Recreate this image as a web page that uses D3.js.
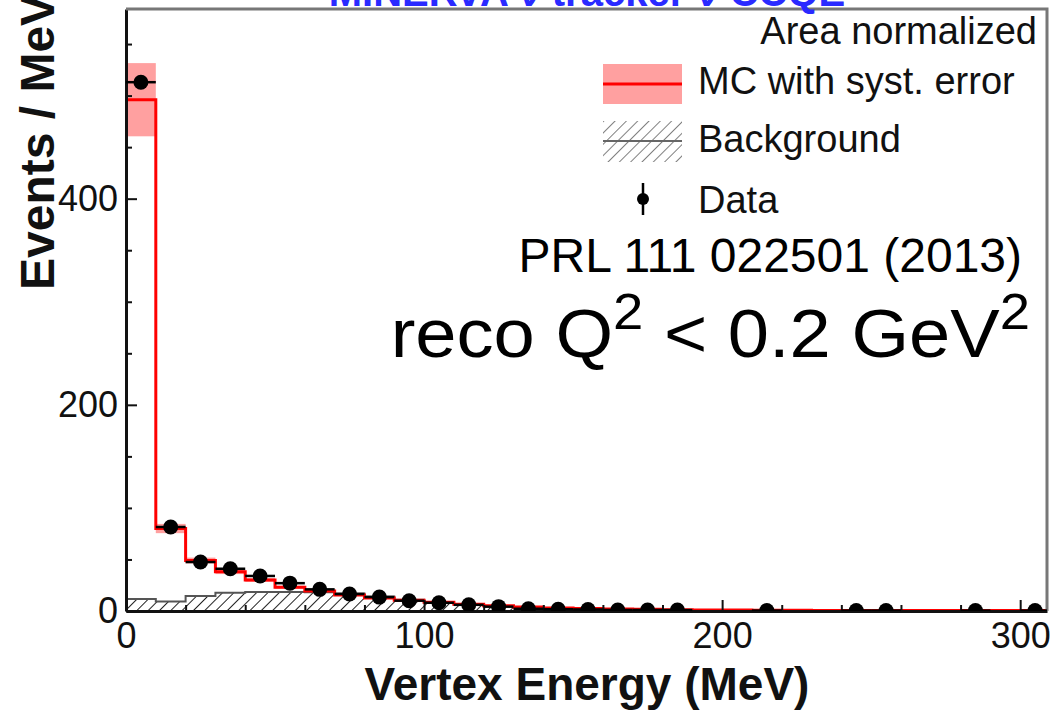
<!DOCTYPE html>
<html>
<head>
<meta charset="utf-8">
<script src="https://cdn.jsdelivr.net/npm/d3@7"></script>
<style>
  body { margin: 0; background: #fff; }
  svg { display: block; }
  text { font-family: "Liberation Sans", Arial, Helvetica, sans-serif; }
</style>
</head>
<body>
<svg id="chart" width="1052" height="712"></svg>
<script>
// Vertex energy histogram bins (lower edges, MeV), 10 MeV wide
const binLow = [0, 10, 20, 30, 40, 50, 60, 70, 80, 90, 100, 110, 120, 130, 140, 150,
  160, 170, 180, 190, 200, 210, 220, 230, 240, 250, 260, 270, 280, 290, 300];
const binWidth = 10;

// Simulation (area normalized), events / MeV
const mcValues = [496, 80, 49, 38, 30, 23, 19.5, 15.5, 12.5, 10.5, 8.5, 6.5, 5, 4, 3, 2.5,
  2, 1.6, 1.3, 1.0, 0.9, 0.8, 0.7, 0.6, 0.6, 0.5, 0.5, 0.4, 0.4, 0.4, 0.4];
// Systematic error half-widths on the simulation
const mcSyst = [35.5, 4.5, 2.8, 2.2, 1.8, 1.4, 1.2, 1.0, 0.8, 0.7, 0.6, 0.5, 0.4, 0.3, 0.3, 0.2,
  0.2, 0.2, 0.1, 0.1, 0.1, 0.1, 0.1, 0.1, 0.1, 0.1, 0.1, 0.1, 0.1, 0.1, 0.1];
// Predicted background
const bkgValues = [11.6, 9.2, 14.5, 17.8, 18.5, 18.5, 18.2, 17, 14, 11, 8.5, 6, 4.5, 3.5, 2.5, 2,
  1.5, 1.2, 1.0, 0.7, 0.5, 0.4, 0.3, 0.3, 0.3, 0.2, 0.2, 0.2, 0.2, 0.2, 0.2];

// Measured data (bin centres, MeV) and events / MeV
const dataX = [5, 15, 25, 35, 45, 55, 65, 75, 85, 95, 105, 115, 125, 135, 145, 155, 165, 175, 185,
  215, 245, 255, 285, 305];
const dataY = [513, 81.5, 47.5, 41, 34, 27, 21, 16.5, 13.5, 10, 8, 6, 4.2, 2.2, 1.7, 1.5, 1.0, 1.0, 0.9,
  0.4, 0.4, 0.4, 0.4, 0.4];
const dataErr = [5, 2.5, 2, 1.8, 1.6, 1.4, 1.2, 1.1, 1.0, 0.9, 0.8, 0.7, 0.6, 0.5, 0.4, 0.4, 0.3, 0.3, 0.3,
  0.2, 0.2, 0.2, 0.2, 0.2];

const xTicks = [0, 100, 200, 300];
const xMinorTicks = [20, 40, 60, 80, 120, 140, 160, 180, 220, 240, 260, 280];
const yTicks = [0, 200, 400];
const yMinorTicks = [50, 100, 150, 250, 300, 350, 450, 500, 550];

const svg = d3.select("#chart");
const frame = { left: 126, right: 1047, top: 9, bottom: 611 };

const x = d3.scaleLinear().domain([0, 309]).range([frame.left, frame.right]);
const y = d3.scaleLinear().domain([0, 584]).range([frame.bottom, frame.top]);

const defs = svg.append("defs");
defs.append("clipPath").attr("id", "plotClip")
  .append("rect").attr("x", frame.left).attr("y", frame.top)
  .attr("width", frame.right - frame.left).attr("height", frame.bottom - frame.top);

function makeHatch(id, color, width) {
  const p = defs.append("pattern").attr("id", id)
    .attr("patternUnits", "userSpaceOnUse").attr("width", 8).attr("height", 8)
    .attr("patternTransform", "rotate(45)");
  p.append("line").attr("x1", 0).attr("y1", 0).attr("x2", 0).attr("y2", 8)
    .attr("stroke", color).attr("stroke-width", width);
}
makeHatch("hatch", "#222", 2);
makeHatch("hatchKey", "#555", 1.5);

// Step outline for a histogram
function stepPoints(values) {
  const pts = [];
  binLow.forEach((lo, i) => {
    pts.push([lo, values[i]]);
    pts.push([lo + binWidth, values[i]]);
  });
  return pts;
}
const line = d3.line().x(d => x(d[0])).y(d => y(d[1]));
const area = d3.area().x(d => x(d[0])).y0(y(0)).y1(d => y(d[1]));

const plot = svg.append("g").attr("clip-path", "url(#plotClip)");

// Systematic error band
plot.selectAll("rect.band").data(binLow).join("rect")
  .attr("class", "band")
  .attr("x", d => x(d))
  .attr("width", d => x(d + binWidth) - x(d))
  .attr("y", (d, i) => y(mcValues[i] + mcSyst[i]))
  .attr("height", (d, i) => y(mcValues[i] - mcSyst[i]) - y(mcValues[i] + mcSyst[i]))
  .attr("fill", "#ffa0a0");

// Background, hatched
const bkgPts = stepPoints(bkgValues);
plot.append("path").attr("d", area(bkgPts)).attr("fill", "url(#hatch)");
plot.append("path").attr("d", line(bkgPts)).attr("fill", "none")
  .attr("stroke", "#555").attr("stroke-width", 2);

// Simulation histogram
plot.append("path").attr("d", line(stepPoints(mcValues)))
  .attr("fill", "none").attr("stroke", "#ff0000").attr("stroke-width", 3);

// Axes
const xAxis = svg.append("g").attr("transform", `translate(0,${frame.bottom})`)
  .call(d3.axisBottom(x).tickValues(xTicks).tickSizeInner(-11).tickSizeOuter(0).tickPadding(11).tickFormat(d3.format("d")));
const xMinor = svg.append("g").attr("transform", `translate(0,${frame.bottom})`)
  .call(d3.axisBottom(x).tickValues(xMinorTicks).tickSizeInner(-6).tickSizeOuter(0).tickFormat(""));
const yAxis = svg.append("g").attr("transform", `translate(${frame.left},0)`)
  .call(d3.axisLeft(y).tickValues(yTicks).tickSizeInner(-11).tickSizeOuter(0).tickPadding(8).tickFormat(d3.format("d")));
const yMinor = svg.append("g").attr("transform", `translate(${frame.left},0)`)
  .call(d3.axisLeft(y).tickValues(yMinorTicks).tickSizeInner(-6).tickSizeOuter(0).tickFormat(""));

[xMinor, yMinor].forEach(g => g.select(".domain").remove());
[xAxis, yAxis].forEach(g => {
  g.select(".domain").attr("stroke", "#111").attr("stroke-width", 3);
  g.selectAll(".tick text").attr("font-size", 36).attr("fill", "#111")
    .attr("font-family", "'Liberation Sans', Arial, sans-serif");
});
[xAxis, yAxis, xMinor, yMinor].forEach(g => g.selectAll(".tick line").attr("stroke", "#111").attr("stroke-width", 2));

// Frame (top and right)
svg.append("path")
  .attr("d", `M${frame.left},${frame.top}H${frame.right}V${frame.bottom}`)
  .attr("fill", "none").attr("stroke", "#777").attr("stroke-width", 3);

// Data points with error bars
const pts = svg.append("g").attr("clip-path", "url(#plotClip)");
dataX.forEach((cx, i) => {
  pts.append("line")
    .attr("x1", x(cx - binWidth / 2)).attr("x2", x(cx + binWidth / 2))
    .attr("y1", y(dataY[i])).attr("y2", y(dataY[i]))
    .attr("stroke", "#000").attr("stroke-width", 2.5);
  pts.append("line")
    .attr("x1", x(cx)).attr("x2", x(cx))
    .attr("y1", y(dataY[i] - dataErr[i])).attr("y2", y(dataY[i] + dataErr[i]))
    .attr("stroke", "#000").attr("stroke-width", 2.5);
});
pts.selectAll("circle").data(dataX).join("circle")
  .attr("cx", d => x(d)).attr("cy", (d, i) => y(dataY[i])).attr("r", 7.5).attr("fill", "#000");

// Title, running off the top edge
svg.append("text").attr("x", 587).attr("y", 6).attr("text-anchor", "middle")
  .attr("font-size", 40).attr("font-weight", "bold").attr("fill", "#2a2aff")
  .text("MINERvA  ν tracker  ν CCQE");

// Axis titles
svg.append("text").attr("x", 587).attr("y", 700).attr("text-anchor", "middle")
  .attr("font-size", 46).attr("font-weight", "bold").attr("fill", "#111")
  .text("Vertex Energy (MeV)");
svg.append("text").attr("transform", "translate(54,290) rotate(-90)")
  .attr("text-anchor", "start")
  .attr("font-size", 48).attr("font-weight", "bold").attr("fill", "#111")
  .text("Events / MeV");

// Legend
svg.append("text").attr("x", 1037).attr("y", 44).attr("text-anchor", "end")
  .attr("font-size", 38).attr("fill", "#111").text("Area normalized");

const lg = svg.append("g");
lg.append("rect").attr("x", 603).attr("y", 64).attr("width", 79).attr("height", 40).attr("fill", "#ffa0a0");
lg.append("line").attr("x1", 603).attr("x2", 682).attr("y1", 84).attr("y2", 84)
  .attr("stroke", "#ff0000").attr("stroke-width", 3);
lg.append("text").attr("x", 698).attr("y", 94).attr("font-size", 38).attr("fill", "#111")
  .text("MC with syst. error");

lg.append("rect").attr("x", 603).attr("y", 121).attr("width", 79).attr("height", 41).attr("fill", "url(#hatchKey)");
lg.append("line").attr("x1", 603).attr("x2", 682).attr("y1", 141).attr("y2", 141)
  .attr("stroke", "#666").attr("stroke-width", 2);
lg.append("text").attr("x", 698).attr("y", 152).attr("font-size", 38).attr("fill", "#111")
  .text("Background");

lg.append("line").attr("x1", 643).attr("x2", 643).attr("y1", 183).attr("y2", 215)
  .attr("stroke", "#000").attr("stroke-width", 2.5);
lg.append("circle").attr("cx", 643).attr("cy", 199).attr("r", 6).attr("fill", "#000");
lg.append("text").attr("x", 698).attr("y", 213).attr("font-size", 38).attr("fill", "#111")
  .text("Data");

// Annotations
svg.append("text").attr("x", 1022).attr("y", 272).attr("text-anchor", "end")
  .attr("font-size", 48).attr("fill", "#000").text("PRL 111 022501 (2013)");

const reco = svg.append("text")
  .attr("transform", "translate(1030,357) scale(1.09,1)")
  .attr("text-anchor", "end")
  .attr("font-size", 68).attr("fill", "#000");
reco.append("tspan").text("reco Q");
reco.append("tspan").attr("dy", -28).attr("font-size", 50).text("2");
reco.append("tspan").attr("dy", 28).text(" < 0.2 GeV");
reco.append("tspan").attr("dy", -28).attr("font-size", 50).text("2");
</script>
</body>
</html>
